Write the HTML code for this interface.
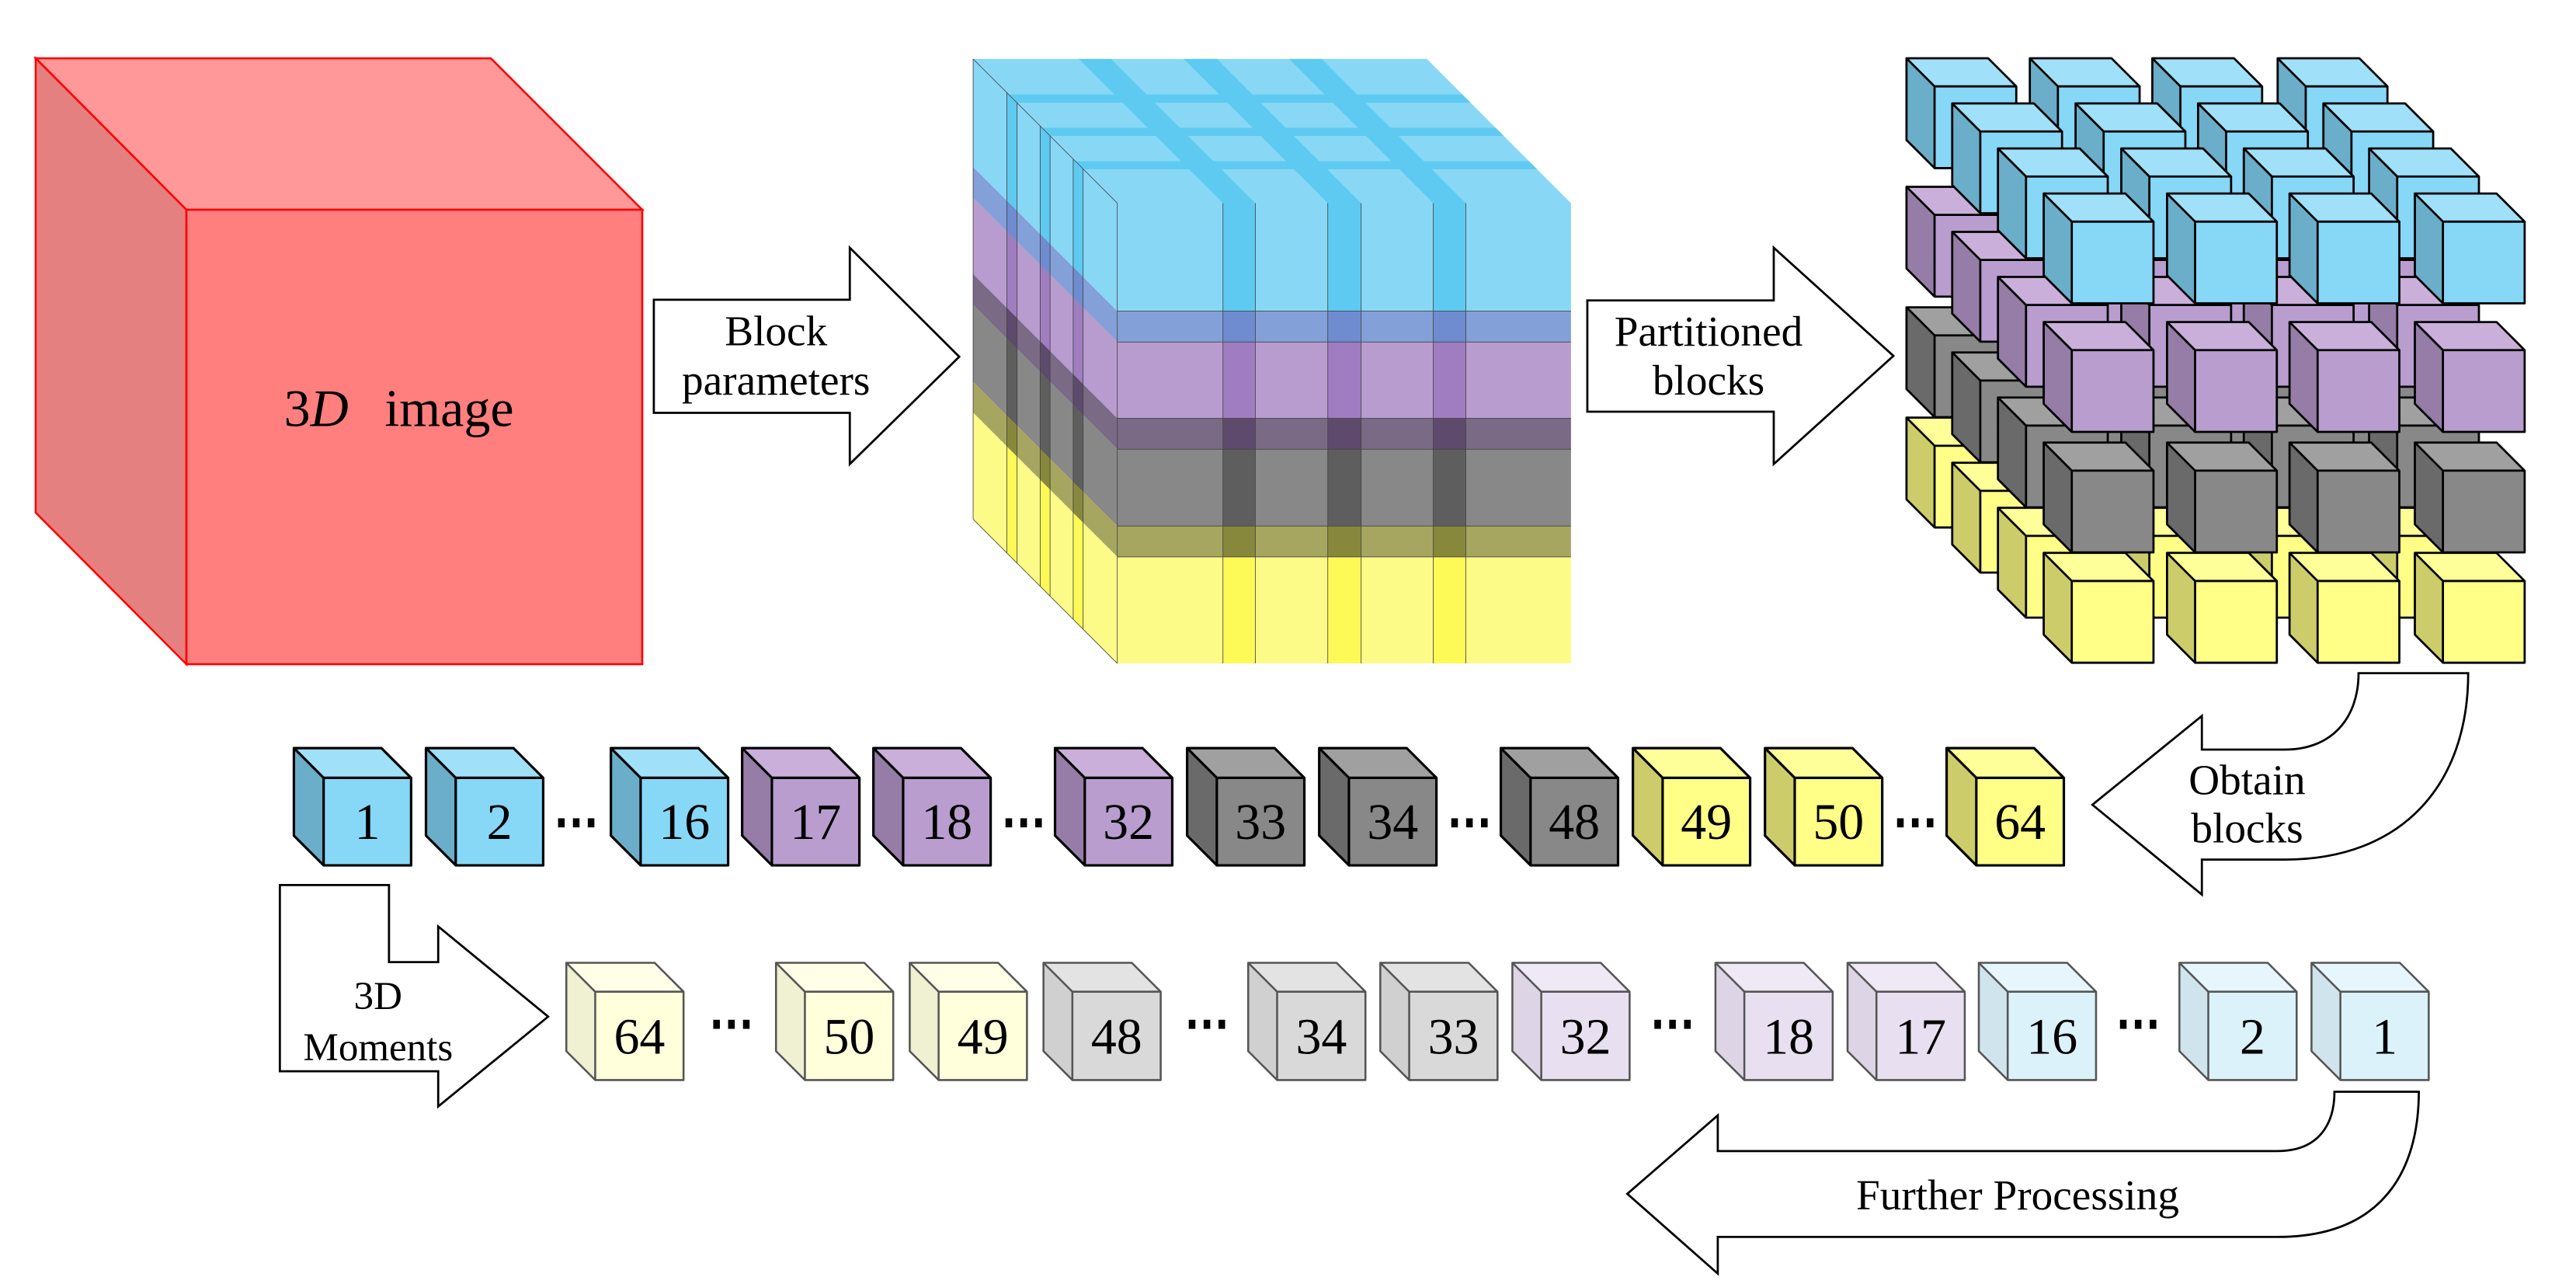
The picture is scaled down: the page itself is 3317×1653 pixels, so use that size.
<!DOCTYPE html>
<html><head><meta charset="utf-8"><style>html,body{margin:0;padding:0;background:#fff}svg{display:block}</style></head>
<body>
<svg xmlns="http://www.w3.org/2000/svg" xmlns:xlink="http://www.w3.org/1999/xlink" width="3317" height="1653" viewBox="0 0 1560.2 777.5" preserveAspectRatio="none" font-family="'Liberation Serif', serif">
<defs>
  <g id="gb"><polygon points="0,0 49.5,0 66.5,17 17,17" fill="#a0e0f8"/><polygon points="0,0 17,17 17,66.5 0,49.5" fill="#6aaec9"/><rect x="17" y="17" width="49.5" height="49.5" fill="#87d7f7"/><path d="M0,0 L49.5,0 L66.5,17 L66.5,66.5 L17,66.5 L0,49.5 Z M0,0 L17,17 L66.5,17 M17,17 L17,66.5" fill="none" stroke="#000" stroke-width="1.3" stroke-linejoin="round"/></g>
  <g id="gp"><polygon points="0,0 49.5,0 66.5,17 17,17" fill="#c9afd9"/><polygon points="0,0 17,17 17,66.5 0,49.5" fill="#957da7"/><rect x="17" y="17" width="49.5" height="49.5" fill="#b99dcf"/><path d="M0,0 L49.5,0 L66.5,17 L66.5,66.5 L17,66.5 L0,49.5 Z M0,0 L17,17 L66.5,17 M17,17 L17,66.5" fill="none" stroke="#000" stroke-width="1.3" stroke-linejoin="round"/></g>
  <g id="gg"><polygon points="0,0 49.5,0 66.5,17 17,17" fill="#a0a0a0"/><polygon points="0,0 17,17 17,66.5 0,49.5" fill="#6a6a6a"/><rect x="17" y="17" width="49.5" height="49.5" fill="#888"/><path d="M0,0 L49.5,0 L66.5,17 L66.5,66.5 L17,66.5 L0,49.5 Z M0,0 L17,17 L66.5,17 M17,17 L17,66.5" fill="none" stroke="#000" stroke-width="1.3" stroke-linejoin="round"/></g>
  <g id="gy"><polygon points="0,0 49.5,0 66.5,17 17,17" fill="#ffff99"/><polygon points="0,0 17,17 17,66.5 0,49.5" fill="#cccc6a"/><rect x="17" y="17" width="49.5" height="49.5" fill="#ffff88"/><path d="M0,0 L49.5,0 L66.5,17 L66.5,66.5 L17,66.5 L0,49.5 Z M0,0 L17,17 L66.5,17 M17,17 L17,66.5" fill="none" stroke="#000" stroke-width="1.3" stroke-linejoin="round"/></g>
  <g id="b1"><polygon points="0,0 53,0 71,18 18,18" fill="#a0e0f8"/><polygon points="0,0 18,18 18,71 0,53" fill="#6aaec9"/><rect x="18" y="18" width="53" height="53" fill="#87d7f7"/><path d="M0,0 L53,0 L71,18 L71,71 L18,71 L0,53 Z M0,0 L18,18 L71,18 M18,18 L18,71" fill="none" stroke="#000" stroke-width="1.5" stroke-linejoin="round"/></g>
  <g id="p1"><polygon points="0,0 53,0 71,18 18,18" fill="#c9afd9"/><polygon points="0,0 18,18 18,71 0,53" fill="#957da7"/><rect x="18" y="18" width="53" height="53" fill="#b99dcf"/><path d="M0,0 L53,0 L71,18 L71,71 L18,71 L0,53 Z M0,0 L18,18 L71,18 M18,18 L18,71" fill="none" stroke="#000" stroke-width="1.5" stroke-linejoin="round"/></g>
  <g id="g1"><polygon points="0,0 53,0 71,18 18,18" fill="#a0a0a0"/><polygon points="0,0 18,18 18,71 0,53" fill="#6a6a6a"/><rect x="18" y="18" width="53" height="53" fill="#888"/><path d="M0,0 L53,0 L71,18 L71,71 L18,71 L0,53 Z M0,0 L18,18 L71,18 M18,18 L18,71" fill="none" stroke="#000" stroke-width="1.5" stroke-linejoin="round"/></g>
  <g id="y1"><polygon points="0,0 53,0 71,18 18,18" fill="#ffff99"/><polygon points="0,0 18,18 18,71 0,53" fill="#cccc6a"/><rect x="18" y="18" width="53" height="53" fill="#ffff88"/><path d="M0,0 L53,0 L71,18 L71,71 L18,71 L0,53 Z M0,0 L18,18 L71,18 M18,18 L18,71" fill="none" stroke="#000" stroke-width="1.5" stroke-linejoin="round"/></g>
  <g id="y2"><polygon points="0,0 53.5,0 71,17.5 17.5,17.5" fill="#ffffe8"/><polygon points="0,0 17.5,17.5 17.5,71 0,53.5" fill="#f0f0d2"/><rect x="17.5" y="17.5" width="53.5" height="53.5" fill="#ffffdc"/><path d="M0,0 L53.5,0 L71,17.5 L71,71 L17.5,71 L0,53.5 Z M0,0 L17.5,17.5 L71,17.5 M17.5,17.5 L17.5,71" fill="none" stroke="#555" stroke-width="1.2" stroke-linejoin="round"/></g>
  <g id="g2"><polygon points="0,0 53.5,0 71,17.5 17.5,17.5" fill="#e3e3e3"/><polygon points="0,0 17.5,17.5 17.5,71 0,53.5" fill="#d0d0d0"/><rect x="17.5" y="17.5" width="53.5" height="53.5" fill="#d9d9d9"/><path d="M0,0 L53.5,0 L71,17.5 L71,71 L17.5,71 L0,53.5 Z M0,0 L17.5,17.5 L71,17.5 M17.5,17.5 L17.5,71" fill="none" stroke="#555" stroke-width="1.2" stroke-linejoin="round"/></g>
  <g id="p2"><polygon points="0,0 53.5,0 71,17.5 17.5,17.5" fill="#efe8f5"/><polygon points="0,0 17.5,17.5 17.5,71 0,53.5" fill="#ddd5e6"/><rect x="17.5" y="17.5" width="53.5" height="53.5" fill="#e8e0f0"/><path d="M0,0 L53.5,0 L71,17.5 L71,71 L17.5,71 L0,53.5 Z M0,0 L17.5,17.5 L71,17.5 M17.5,17.5 L17.5,71" fill="none" stroke="#555" stroke-width="1.2" stroke-linejoin="round"/></g>
  <g id="b2"><polygon points="0,0 53.5,0 71,17.5 17.5,17.5" fill="#e6f6fc"/><polygon points="0,0 17.5,17.5 17.5,71 0,53.5" fill="#cfe4ec"/><rect x="17.5" y="17.5" width="53.5" height="53.5" fill="#dbf2fb"/><path d="M0,0 L53.5,0 L71,17.5 L71,71 L17.5,71 L0,53.5 Z M0,0 L17.5,17.5 L71,17.5 M17.5,17.5 L17.5,71" fill="none" stroke="#555" stroke-width="1.2" stroke-linejoin="round"/></g>
  <g id="dots"><rect x="0" y="-2.5" width="4" height="5.5"/><rect x="9" y="-2.5" width="4" height="5.5"/><rect x="18" y="-2.5" width="4" height="5.5"/></g>
  <clipPath id="fcol"><rect x="740.7" y="100" width="19.6" height="310"/><rect x="804.2" y="100" width="20.2" height="310"/><rect x="868.1" y="100" width="19.7" height="310"/></clipPath>
  <clipPath id="scol"><rect x="609.8" y="0" width="6.2" height="410"/><rect x="630" y="0" width="6" height="410"/><rect x="650" y="0" width="6" height="410"/></clipPath>
</defs>

<!-- red cube -->
<polygon points="21.6,35.3 297.3,35.3 389,127 112.9,127" fill="#ff9999" stroke="#ff0000" stroke-width="1.2"/>
<polygon points="21.6,35.3 112.9,127 112.9,402.2 21.6,310.4" fill="#e58080" stroke="#ff0000" stroke-width="1.2"/>
<rect x="112.9" y="127" width="276.1" height="275.2" fill="#ff7f7f" stroke="#ff0000" stroke-width="1.2"/>
<text x="172" y="258" font-size="32">3<tspan font-style="italic">D</tspan></text>
<text x="233" y="258" font-size="32">image</text>

<!-- block parameters arrow -->
<polygon points="396,181.5 514.7,181.5 514.7,150 581,216 514.7,281 514.7,250 396,250" fill="#fff" stroke="#000" stroke-width="1.3"/>
<text x="470" y="209" font-size="26" text-anchor="middle">Block</text>
<text x="470" y="239" font-size="26" text-anchor="middle">parameters</text>

<!-- middle cube -->
<g stroke="none">
  <polygon points="589.4,35.7 864.2,35.7 951.5,123 676.7,123" fill="#88d8f5"/>
  <g fill="#5ecaf2">
    <polygon points="740.7,123 760.3,123 673,35.7 653.4,35.7"/>
    <polygon points="804.2,123 824.4,123 737.1,35.7 716.9,35.7"/>
    <polygon points="868.1,123 887.8,123 800.5,35.7 780.8,35.7"/>
    <polygon points="610.9,57.2 885.7,57.2 890.7,62.2 615.9,62.2"/>
    <polygon points="631.1,77.4 905.9,77.4 910.8,82.3 636,82.3"/>
    <polygon points="651.3,97.6 926.1,97.6 931,102.5 656.2,102.5"/>
  </g>
  <g>
    <polygon points="589.4,35.7 676.7,123 676.7,188.4 589.4,101.1" fill="#88d8f5"/>
    <polygon points="589.4,101.1 676.7,188.4 676.7,207.1 589.4,119.8" fill="#84a0d8"/>
    <polygon points="589.4,119.8 676.7,207.1 676.7,253.3 589.4,166" fill="#b99ccf"/>
    <polygon points="589.4,166 676.7,253.3 676.7,272 589.4,184.7" fill="#7a6a86"/>
    <polygon points="589.4,184.7 676.7,272 676.7,318.5 589.4,231.2" fill="#888888"/>
    <polygon points="589.4,231.2 676.7,318.5 676.7,337.2 589.4,249.9" fill="#a6a660"/>
    <polygon points="589.4,249.9 676.7,337.2 676.7,401.7 589.4,314.4" fill="#fdfb87"/>
  </g>
  <g clip-path="url(#scol)">
    <polygon points="589.4,35.7 676.7,123 676.7,188.4 589.4,101.1" fill="#5ecaf2"/>
    <polygon points="589.4,101.1 676.7,188.4 676.7,207.1 589.4,119.8" fill="#6e8ccf"/>
    <polygon points="589.4,119.8 676.7,207.1 676.7,253.3 589.4,166" fill="#a07cc0"/>
    <polygon points="589.4,166 676.7,253.3 676.7,272 589.4,184.7" fill="#5e4a6c"/>
    <polygon points="589.4,184.7 676.7,272 676.7,318.5 589.4,231.2" fill="#5e5e5e"/>
    <polygon points="589.4,231.2 676.7,318.5 676.7,337.2 589.4,249.9" fill="#88883c"/>
    <polygon points="589.4,249.9 676.7,337.2 676.7,401.7 589.4,314.4" fill="#fdf956"/>
  </g>
  <rect x="676.7" y="123" width="274.8" height="65.4" fill="#88d8f5"/>
  <rect x="676.7" y="188.4" width="274.8" height="18.7" fill="#84a0d8"/>
  <rect x="676.7" y="207.1" width="274.8" height="46.2" fill="#b99ccf"/>
  <rect x="676.7" y="253.3" width="274.8" height="18.7" fill="#7a6a86"/>
  <rect x="676.7" y="272" width="274.8" height="46.5" fill="#888888"/>
  <rect x="676.7" y="318.5" width="274.8" height="18.7" fill="#a6a660"/>
  <rect x="676.7" y="337.2" width="274.8" height="64.5" fill="#fdfb87"/>
  <g clip-path="url(#fcol)">
    <rect x="676.7" y="123" width="274.8" height="65.4" fill="#5ecaf2"/>
    <rect x="676.7" y="188.4" width="274.8" height="18.7" fill="#6e8ccf"/>
    <rect x="676.7" y="207.1" width="274.8" height="46.2" fill="#a07cc0"/>
    <rect x="676.7" y="253.3" width="274.8" height="18.7" fill="#5e4a6c"/>
    <rect x="676.7" y="272" width="274.8" height="46.5" fill="#5e5e5e"/>
    <rect x="676.7" y="318.5" width="274.8" height="18.7" fill="#88883c"/>
    <rect x="676.7" y="337.2" width="274.8" height="64.5" fill="#fdf956"/>
  </g>
</g>
<g stroke="#444" stroke-width="0.4" fill="none">
  <path d="M676.7,188.4H951.5M676.7,207.1H951.5M676.7,253.3H951.5M676.7,272H951.5M676.7,318.5H951.5M676.7,337.2H951.5"/>
  <path d="M740.7,123V401.7M760.3,123V401.7M804.2,123V401.7M824.4,123V401.7M868.1,123V401.7M887.8,123V401.7"/>
  <path d="M676.7,123V401.7M589.4,35.7L676.7,123M589.4,314.4L676.7,401.7M589.4,35.7V314.4"/>
  <path d="M609.8,56.1V335M616,62.3V341M630,76.3V355M636,82.3V361M650,96.3V375M656,102.3V381"/>
</g>

<!-- partitioned arrow -->
<polygon points="961.4,181.9 1074.3,181.9 1074.3,150 1146.8,215.5 1074.3,281 1074.3,249.3 961.4,249.3" fill="#fff" stroke="#000" stroke-width="1.3"/>
<text x="1034.8" y="209.3" font-size="26" text-anchor="middle">Partitioned</text>
<text x="1034.8" y="239" font-size="26" text-anchor="middle">blocks</text>

<!-- partitioned grid -->
<g transform="translate(-83.1,-81.9)">
  <use xlink:href="#gb" x="1237.8" y="117.2"/><use xlink:href="#gb" x="1312.5" y="117.2"/><use xlink:href="#gb" x="1386.7" y="117.2"/><use xlink:href="#gb" x="1462.6" y="117.2"/>
  <use xlink:href="#gp" x="1237.8" y="195"/><use xlink:href="#gp" x="1312.5" y="195"/><use xlink:href="#gp" x="1386.7" y="195"/><use xlink:href="#gp" x="1462.6" y="195"/>
  <use xlink:href="#gg" x="1237.8" y="268"/><use xlink:href="#gg" x="1312.5" y="268"/><use xlink:href="#gg" x="1386.7" y="268"/><use xlink:href="#gg" x="1462.6" y="268"/>
  <use xlink:href="#gy" x="1237.8" y="334.8"/><use xlink:href="#gy" x="1312.5" y="334.8"/><use xlink:href="#gy" x="1386.7" y="334.8"/><use xlink:href="#gy" x="1462.6" y="334.8"/>
</g>
<g transform="translate(-55.4,-54.6)">
  <use xlink:href="#gb" x="1237.8" y="117.2"/><use xlink:href="#gb" x="1312.5" y="117.2"/><use xlink:href="#gb" x="1386.7" y="117.2"/><use xlink:href="#gb" x="1462.6" y="117.2"/>
  <use xlink:href="#gp" x="1237.8" y="195"/><use xlink:href="#gp" x="1312.5" y="195"/><use xlink:href="#gp" x="1386.7" y="195"/><use xlink:href="#gp" x="1462.6" y="195"/>
  <use xlink:href="#gg" x="1237.8" y="268"/><use xlink:href="#gg" x="1312.5" y="268"/><use xlink:href="#gg" x="1386.7" y="268"/><use xlink:href="#gg" x="1462.6" y="268"/>
  <use xlink:href="#gy" x="1237.8" y="334.8"/><use xlink:href="#gy" x="1312.5" y="334.8"/><use xlink:href="#gy" x="1386.7" y="334.8"/><use xlink:href="#gy" x="1462.6" y="334.8"/>
</g>
<g transform="translate(-27.7,-27.3)">
  <use xlink:href="#gb" x="1237.8" y="117.2"/><use xlink:href="#gb" x="1312.5" y="117.2"/><use xlink:href="#gb" x="1386.7" y="117.2"/><use xlink:href="#gb" x="1462.6" y="117.2"/>
  <use xlink:href="#gp" x="1237.8" y="195"/><use xlink:href="#gp" x="1312.5" y="195"/><use xlink:href="#gp" x="1386.7" y="195"/><use xlink:href="#gp" x="1462.6" y="195"/>
  <use xlink:href="#gg" x="1237.8" y="268"/><use xlink:href="#gg" x="1312.5" y="268"/><use xlink:href="#gg" x="1386.7" y="268"/><use xlink:href="#gg" x="1462.6" y="268"/>
  <use xlink:href="#gy" x="1237.8" y="334.8"/><use xlink:href="#gy" x="1312.5" y="334.8"/><use xlink:href="#gy" x="1386.7" y="334.8"/><use xlink:href="#gy" x="1462.6" y="334.8"/>
</g>
<g>
  <use xlink:href="#gb" x="1237.8" y="117.2"/><use xlink:href="#gb" x="1312.5" y="117.2"/><use xlink:href="#gb" x="1386.7" y="117.2"/><use xlink:href="#gb" x="1462.6" y="117.2"/>
  <use xlink:href="#gp" x="1237.8" y="195"/><use xlink:href="#gp" x="1312.5" y="195"/><use xlink:href="#gp" x="1386.7" y="195"/><use xlink:href="#gp" x="1462.6" y="195"/>
  <use xlink:href="#gg" x="1237.8" y="268"/><use xlink:href="#gg" x="1312.5" y="268"/><use xlink:href="#gg" x="1386.7" y="268"/><use xlink:href="#gg" x="1462.6" y="268"/>
  <use xlink:href="#gy" x="1237.8" y="334.8"/><use xlink:href="#gy" x="1312.5" y="334.8"/><use xlink:href="#gy" x="1386.7" y="334.8"/><use xlink:href="#gy" x="1462.6" y="334.8"/>
</g>

<!-- obtain blocks arrow -->
<path d="M1428.5,407.6 L1494.9,407.6 C1494.9,475 1455,520.5 1384,520.5 L1333.6,520.5 L1333.6,541.7 L1267.3,487.3 L1333.6,433.5 L1333.6,453.9 L1384,453.9 C1412,453.9 1428.5,435 1428.5,407.6 Z" fill="#fff" stroke="#000" stroke-width="1.3"/>
<text x="1361" y="481" font-size="26" text-anchor="middle">Obtain</text>
<text x="1361" y="510" font-size="26" text-anchor="middle">blocks</text>

<!-- row 1 cubes -->
<g font-size="31" text-anchor="middle">
  <use xlink:href="#b1" x="178" y="453"/><text x="222.5" y="508">1</text>
  <use xlink:href="#b1" x="258" y="453"/><text x="302.5" y="508">2</text>
  <use xlink:href="#dots" x="338" y="498"/>
  <use xlink:href="#b1" x="370" y="453"/><text x="414.5" y="508">16</text>
  <use xlink:href="#p1" x="449.5" y="453"/><text x="494" y="508">17</text>
  <use xlink:href="#p1" x="529" y="453"/><text x="573.5" y="508">18</text>
  <use xlink:href="#dots" x="609" y="498"/>
  <use xlink:href="#p1" x="639" y="453"/><text x="683.5" y="508">32</text>
  <use xlink:href="#g1" x="719" y="453"/><text x="763.5" y="508">33</text>
  <use xlink:href="#g1" x="799" y="453"/><text x="843.5" y="508">34</text>
  <use xlink:href="#dots" x="879" y="498"/>
  <use xlink:href="#g1" x="909" y="453"/><text x="953.5" y="508">48</text>
  <use xlink:href="#y1" x="989" y="453"/><text x="1033.5" y="508">49</text>
  <use xlink:href="#y1" x="1069" y="453"/><text x="1113.5" y="508">50</text>
  <use xlink:href="#dots" x="1149" y="498"/>
  <use xlink:href="#y1" x="1179" y="453"/><text x="1223.5" y="508">64</text>
</g>

<!-- 3D moments arrow -->
<polygon points="169.5,535.9 235.6,535.9 235.6,582.6 265.4,582.6 265.4,561 332,615.6 265.4,670 265.4,648.7 169.5,648.7" fill="#fff" stroke="#000" stroke-width="1.3"/>
<text x="229" y="611" font-size="24" text-anchor="middle">3D</text>
<text x="229" y="642" font-size="24" text-anchor="middle">Moments</text>

<!-- row 2 cubes -->
<g font-size="31" text-anchor="middle">
  <use xlink:href="#y2" x="343" y="583"/><text x="387.3" y="638">64</text>
  <use xlink:href="#dots" x="432" y="620"/>
  <use xlink:href="#y2" x="470" y="583"/><text x="514.3" y="638">50</text>
  <use xlink:href="#y2" x="551" y="583"/><text x="595.3" y="638">49</text>
  <use xlink:href="#g2" x="632" y="583"/><text x="676.3" y="638">48</text>
  <use xlink:href="#dots" x="720" y="620"/>
  <use xlink:href="#g2" x="756" y="583"/><text x="800.3" y="638">34</text>
  <use xlink:href="#g2" x="836" y="583"/><text x="880.3" y="638">33</text>
  <use xlink:href="#p2" x="916" y="583"/><text x="960.3" y="638">32</text>
  <use xlink:href="#dots" x="1002" y="620"/>
  <use xlink:href="#p2" x="1039" y="583"/><text x="1083.3" y="638">18</text>
  <use xlink:href="#p2" x="1119" y="583"/><text x="1163.3" y="638">17</text>
  <use xlink:href="#b2" x="1198.5" y="583"/><text x="1242.8" y="638">16</text>
  <use xlink:href="#dots" x="1284" y="620"/>
  <use xlink:href="#b2" x="1320" y="583"/><text x="1364.3" y="638">2</text>
  <use xlink:href="#b2" x="1400" y="583"/><text x="1444.3" y="638">1</text>
</g>

<!-- further processing arrow -->
<path d="M1413.9,661.1 L1465,661.1 C1465,700 1450,749 1379.3,749 L1040.4,749 L1040.4,771.2 L985.6,722.9 L1040.4,675.4 L1040.4,697 L1379.3,697 C1405,697 1413.9,680 1413.9,661.1 Z" fill="#fff" stroke="#000" stroke-width="1.3"/>
<text x="1222" y="732.4" font-size="26" text-anchor="middle">Further Processing</text>
</svg>
</body></html>
